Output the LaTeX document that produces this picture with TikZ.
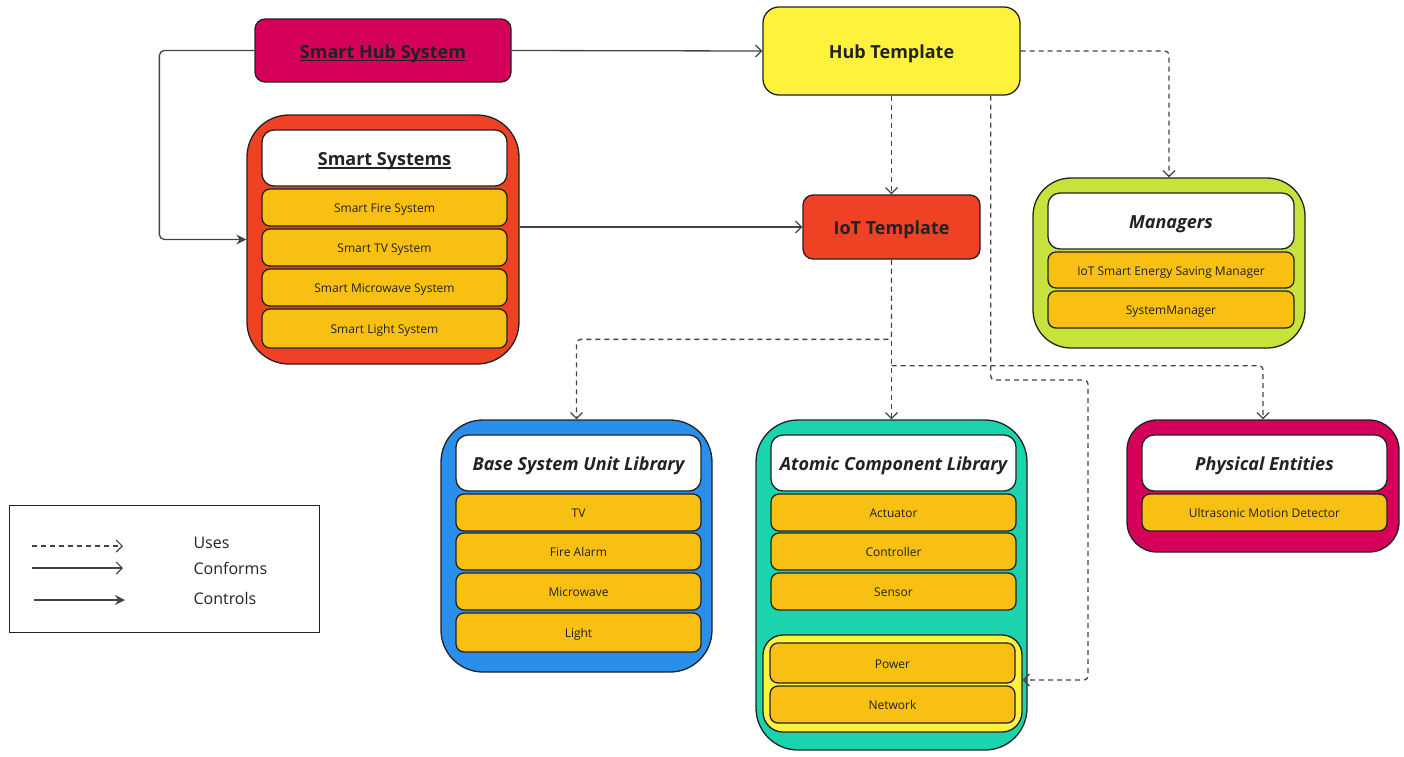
\documentclass[tikz,border=0pt]{standalone}
\usepackage{fontspec}
\setmainfont{Open Sans}
\usetikzlibrary{arrows.meta,calc}
\newcommand\myul[1]{\setbox0\hbox{#1}\rlap{\rule[-3pt]{\wd0}{1.3pt}}\box0}
\definecolor{crimson}{HTML}{D4005A}
\definecolor{redor}{HTML}{EF4123}
\definecolor{yel}{HTML}{FFF23C}
\definecolor{gold}{HTML}{F8C012}
\definecolor{lime}{HTML}{C7E23A}
\definecolor{blu}{HTML}{2A8FEA}
\definecolor{teal2}{HTML}{1BD3AC}
\definecolor{ln}{HTML}{444444}
\definecolor{txt}{HTML}{222222}
\tikzset{
  x=1pt,y=-1pt,
  box/.style={draw=txt,line width=1.3pt,inner sep=0pt,text=txt},
  bigtext/.style={font=\fontsize{18}{21}\selectfont\bfseries,text height=15.5pt,text depth=0pt},
  cont/.style={box,rounded corners=42pt},
  head/.style={box,bigtext,fill=white,rounded corners=12pt,minimum width=245pt,minimum height=56pt},
  item/.style={box,fill=gold,rounded corners=8pt,minimum width=245pt,minimum height=37pt,font=\fontsize{12}{14}\selectfont,text height=10.3pt,text depth=0pt},
  legtext/.style={anchor=west,font=\fontsize{16}{19}\selectfont,text=txt},
  conf/.style={draw=ln,line width=1.3pt,-{Straight Barb[length=6pt,width=12pt,line width=1.2pt]}},
  ctrl/.style={draw=ln,line width=1.3pt,-{Stealth[length=10pt,width=10pt]}},
  uses/.style={conf,dash pattern=on 5pt off 4pt},
}
\begin{document}
\begin{tikzpicture}
\useasboundingbox (0,0) rectangle (1404,756);
% top nodes
\node[box,bigtext,fill=crimson,rounded corners=10pt,minimum width=256pt,minimum height=63pt] (hub) at (383,50.5) {\myul{Smart Hub System}};
\node[box,bigtext,fill=yel,rounded corners=16pt,minimum width=257pt,minimum height=88pt] (hubt) at (891.5,51) {Hub Template};
\node[box,bigtext,fill=redor,rounded corners=10pt,minimum width=177pt,minimum height=64pt] (iot) at (891.5,227) {IoT Template};
% smart systems
\node[cont,fill=redor,minimum width=272pt,minimum height=249pt] (ss) at (383,239.5) {};
\node[head] (ssh) at (384.5,158) {\myul{Smart Systems}};
\node[item] (ss1) at (384.5,207.5) {Smart Fire System};
\node[item] (ss2) at (384.5,247.5) {Smart TV System};
\node[item] (ss3) at (384.5,287.5) {Smart Microwave System};
\node[item,minimum height=39pt] (ss4) at (384.5,328.5) {Smart Light System};
% managers
\node[cont,fill=lime,minimum width=272pt,minimum height=170pt,rounded corners=38pt] (mgr) at (1169,263) {};
\node[head,minimum width=246pt] (mgrh) at (1171,221) {\itshape Managers};
\node[item,minimum width=246pt,minimum height=36pt] (mg1) at (1171,270) {IoT Smart Energy Saving Manager};
\node[item,minimum width=246pt] (mg2) at (1171,309.5) {SystemManager};
% base system unit library
\node[cont,fill=blu,minimum width=271pt,minimum height=252pt] (base) at (576.5,546) {};
\node[head] (baseh) at (578.5,463) {\itshape Base System Unit Library};
\node[item] (b1) at (578.5,512.5) {TV};
\node[item] (b2) at (578.5,551.5) {Fire Alarm};
\node[item] (b3) at (578.5,591.5) {Microwave};
\node[item,minimum height=39pt] (b4) at (578.5,632.5) {Light};
% atomic component library
\node[cont,fill=teal2,minimum width=271pt,minimum height=330pt] (atom) at (891.5,585) {};
\node[head] (atomh) at (893.5,463) {\itshape Atomic Component Library};
\node[item] (a1) at (893.5,512.5) {Actuator};
\node[item] (a2) at (893.5,551.5) {Controller};
\node[item] (a3) at (893.5,591.5) {Sensor};
\node[box,fill=yel,rounded corners=20pt,minimum width=259pt,minimum height=97pt] (sub) at (892.5,683.5) {};
\node[item,minimum height=40pt] (a4) at (892.5,663) {Power};
\node[item] (a5) at (892.5,704.5) {Network};
% physical entities
\node[cont,fill=crimson,minimum width=272pt,minimum height=132pt,rounded corners=30pt] (phys) at (1263,486) {};
\node[head] (physh) at (1264.5,463) {\itshape Physical Entities};
\node[item] (p1) at (1264.5,512.5) {Ultrasonic Motion Detector};
% legend
\node[draw=txt,line width=1pt,minimum width=310pt,minimum height=127pt,inner sep=0pt] (leg) at (164,568.5) {};
\coordinate (l1a) at (32,546); \coordinate (l1b) at (123,546);
\coordinate (l2a) at (32,568); \coordinate (l2b) at (123,568);
\coordinate (l3a) at (34,600); \coordinate (l3b) at (125,600);
\draw[uses] (l1a) -- (l1b);
\draw[conf] (l2a) -- (l2b);
\draw[ctrl] (l3a) -- (l3b);
\node[legtext] (t1) at (190,543) {Uses};
\node[legtext] (t2) at (190,568) {Conforms};
\node[legtext] (t3) at (190,598) {Controls};
% connectors
\draw[conf] (hub.east) -- (hubt.west);
\draw[ctrl,rounded corners=5pt] (hub.west) -- ++(-95,0) |- (ss.west);
\draw[conf] (ss.east |- iot.west) -- (iot.west);
\draw[uses] (hubt.south) -- (iot.north);
\draw[uses,rounded corners=4pt] (hubt.east) -| (mgr.north);
\draw[uses,rounded corners=4pt] ([xshift=-30pt]hubt.south east) |- (1088,380) |- ([yshift=3.5pt]sub.east);
\draw[uses] (iot.south) -- (atom.north);
\draw[uses,rounded corners=4pt] (iot.south) |- ([yshift=80pt]base.north) -- (base.north);
\draw[uses,rounded corners=4pt] ([yshift=-106pt]iot.south) -| (phys.north);
\end{tikzpicture}
\end{document}
